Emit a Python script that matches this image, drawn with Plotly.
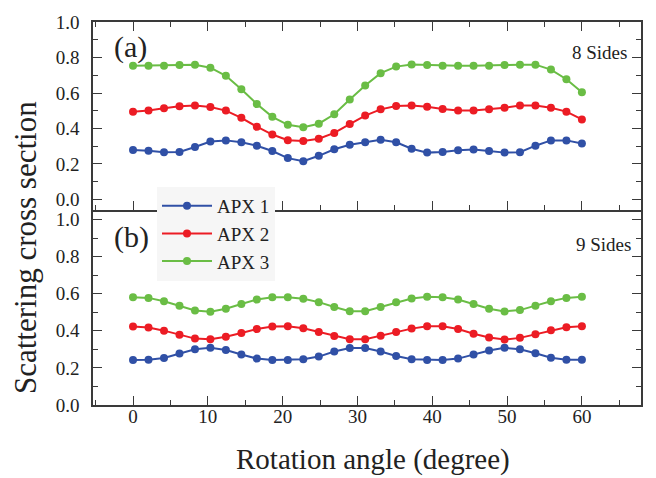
import plotly.graph_objects as go

# ---------------- data ----------------
angles = [0.00, 2.07, 4.14, 6.21, 8.28, 10.34, 12.41, 14.48, 16.55, 18.62,
          20.69, 22.76, 24.83, 26.90, 28.97, 31.03, 33.10, 35.17, 37.24, 39.31,
          41.38, 43.45, 45.52, 47.59, 49.66, 51.72, 53.79, 55.86, 57.93, 60.00]

# panel (a): 8 sides
a_apx1 = [0.279, 0.275, 0.266, 0.268, 0.296, 0.327, 0.333, 0.322, 0.303, 0.273,
          0.233, 0.216, 0.246, 0.283, 0.308, 0.323, 0.336, 0.322, 0.286, 0.264,
          0.268, 0.277, 0.281, 0.273, 0.264, 0.266, 0.303, 0.333, 0.333, 0.316]
a_apx2 = [0.495, 0.501, 0.514, 0.525, 0.529, 0.521, 0.501, 0.460, 0.410, 0.366,
          0.334, 0.329, 0.342, 0.375, 0.425, 0.473, 0.508, 0.527, 0.530, 0.523,
          0.510, 0.501, 0.501, 0.508, 0.517, 0.529, 0.529, 0.517, 0.495, 0.451]
a_apx3 = [0.754, 0.754, 0.754, 0.758, 0.760, 0.743, 0.697, 0.621, 0.538, 0.466,
          0.421, 0.407, 0.427, 0.480, 0.564, 0.643, 0.712, 0.749, 0.761, 0.758,
          0.754, 0.754, 0.754, 0.754, 0.758, 0.760, 0.760, 0.732, 0.678, 0.604]

# panel (b): 9 sides
b_apx1 = [0.242, 0.244, 0.253, 0.277, 0.301, 0.308, 0.296, 0.272, 0.250, 0.242,
          0.242, 0.246, 0.261, 0.288, 0.307, 0.307, 0.288, 0.264, 0.246, 0.242,
          0.242, 0.250, 0.272, 0.294, 0.308, 0.301, 0.279, 0.255, 0.244, 0.244]
b_apx2 = [0.423, 0.418, 0.401, 0.379, 0.358, 0.355, 0.368, 0.388, 0.410, 0.423,
          0.425, 0.414, 0.394, 0.372, 0.355, 0.355, 0.373, 0.394, 0.412, 0.425,
          0.425, 0.410, 0.384, 0.364, 0.353, 0.362, 0.381, 0.403, 0.419, 0.425]
b_apx3 = [0.582, 0.578, 0.560, 0.536, 0.510, 0.503, 0.519, 0.545, 0.569, 0.582,
          0.582, 0.573, 0.555, 0.529, 0.506, 0.506, 0.529, 0.555, 0.575, 0.584,
          0.582, 0.569, 0.545, 0.519, 0.505, 0.512, 0.536, 0.560, 0.578, 0.584]

series_names = ["APX 1", "APX 2", "APX 3"]
colors = ["#3050A6", "#EC1C24", "#6ABD45"]
ytick_vals = [0.0, 0.2, 0.4, 0.6, 0.8, 1.0]
ytick_text = ["0.0", "0.2", "0.4", "0.6", "0.8", "1.0"]
xtick_vals = [0, 10, 20, 30, 40, 50, 60]
xtick_text = ["0", "10", "20", "30", "40", "50", "60"]

# ---------------- layout geometry ----------------
W, H = 656, 478
ML, MR, MT, MB = 93, 15, 17, 73
pw, ph = W - ML - MR, H - MT - MB
SPLIT = 207  # pixel row of the panel boundary
dsplit = (H - MB - SPLIT) / ph


def px(xp):
    return (xp - ML) / pw


def py(yp):
    return (H - MB - yp) / ph


FONT = "Liberation Serif"
AX = "#3a3a3a"
TXT = "#222222"

fig = go.Figure()
for i, (ya, yb) in enumerate([(a_apx1, b_apx1), (a_apx2, b_apx2), (a_apx3, b_apx3)]):
    fig.add_trace(go.Scatter(x=angles, y=ya, xaxis="x2", yaxis="y2", mode="lines+markers",
                             name=series_names[i], line=dict(color=colors[i], width=2),
                             marker=dict(color=colors[i], size=8), showlegend=True))
    fig.add_trace(go.Scatter(x=angles, y=yb, xaxis="x", yaxis="y", mode="lines+markers",
                             name=series_names[i], line=dict(color=colors[i], width=2),
                             marker=dict(color=colors[i], size=8), showlegend=False))

common_x = dict(range=[-5.35, 67.9], tickvals=xtick_vals, ticktext=xtick_text,
                ticks="inside", ticklen=9, tickwidth=1.3, tickcolor=AX,
                minor=dict(ticks="inside", ticklen=5, tickwidth=1.3, dtick=5, tick0=0, tickcolor=AX),
                showline=True, linecolor=AX, linewidth=1.5, showgrid=False, zeroline=False,
                tickfont=dict(family=FONT, size=19, color=TXT))
common_y = dict(tickvals=ytick_vals, ticktext=ytick_text,
                ticks="inside", ticklen=9, tickwidth=1.3, tickcolor=AX,
                minor=dict(ticks="inside", ticklen=5, tickwidth=1.3, dtick=0.1, tick0=0, tickcolor=AX),
                showline=True, linecolor=AX, linewidth=1.5, showgrid=False, zeroline=False,
                mirror="ticks", ticklabelstandoff=8,
                tickfont=dict(family=FONT, size=19, color=TXT))

fig.update_layout(
    width=W, height=H,
    margin=dict(l=ML, r=MR, t=MT, b=MB),
    paper_bgcolor="white", plot_bgcolor="white",
    font=dict(family=FONT, color=TXT),
    xaxis=dict(common_x, anchor="y", domain=[0, 1], mirror=False, ticklabelstandoff=-7),
    xaxis2=dict(common_x, anchor="y2", domain=[0, 1], mirror="ticks", showticklabels=False),
    yaxis=dict(common_y, anchor="x", domain=[0, dsplit], range=[-0.0005, 1.055]),
    yaxis2=dict(common_y, anchor="x2", domain=[dsplit, 1], range=[-0.057, 1.0005]),
    legend=dict(x=px(157), y=py(184), xanchor="left", yanchor="top",
                bgcolor="#f6f6f6", borderwidth=0, itemwidth=50,
                font=dict(family=FONT, size=19, color=TXT),
                tracegroupgap=0),
    showlegend=True,
)

annotations = [
    dict(text="(a)", x=px(112), y=py(42), xanchor="left", yanchor="middle", font_size=30),
    dict(text="(b)", x=px(112), y=py(235), xanchor="left", yanchor="middle", font_size=30),
    dict(text="8 Sides", x=px(629), y=py(48), xanchor="right", yanchor="middle", font_size=19),
    dict(text="9 Sides", x=px(633), y=py(242), xanchor="right", yanchor="middle", font_size=19),
    dict(text="Rotation angle (degree)", x=px(373), y=py(460), xanchor="center", yanchor="middle",
         font_size=29),
    dict(text="Scattering cross section", x=px(25), y=py(246), xanchor="center", yanchor="middle",
         textangle=-90, font_size=31),
]
for a in annotations:
    fig.add_annotation(xref="paper", yref="paper", showarrow=False,
                       font=dict(family=FONT, size=a.pop("font_size"), color=TXT), **a)

fig.write_html("out.html", config={"displayModeBar": False},
               post_script="document.body.style.margin='0';")
